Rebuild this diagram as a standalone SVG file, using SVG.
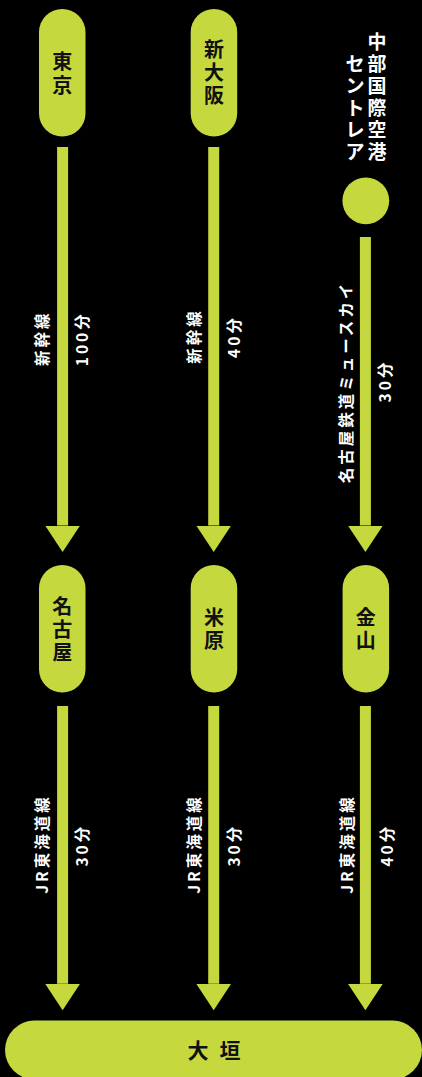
<svg xmlns="http://www.w3.org/2000/svg" width="422" height="1077" viewBox="0 0 422 1077">
  <defs>
    <marker id="head" markerUnits="userSpaceOnUse" viewBox="0 -18 27 36" refX="0" refY="0" markerWidth="27" markerHeight="36" orient="auto">
      <path d="M0,-17.5 L26.5,0 L0,17.5 Z" fill="#c5d93e"/>
    </marker>
  </defs>
  <style>
    .node { fill: #c5d93e; }
    .nlabel { font-family: "Noto Sans CJK JP", "Noto Sans", sans-serif; font-size: 20px; font-weight: 700; fill: #111; text-anchor: middle; }
    .white { font-family: "Noto Sans CJK JP", "Noto Sans", sans-serif; font-size: 19px; font-weight: 700; fill: #fff; text-anchor: middle; }
    .lbl { font-family: "Noto Sans CJK JP", "Noto Sans", sans-serif; font-size: 15.5px; font-weight: 700; fill: #fff; text-anchor: middle; letter-spacing: 3px; }
    .conn { stroke: #c5d93e; stroke-width: 11; fill: none; marker-end: url(#head); }
    .big { font-family: "Noto Sans CJK JP", "Noto Sans", sans-serif; font-size: 21px; font-weight: 700; fill: #111; text-anchor: middle; letter-spacing: 11px; }
  </style>
  <rect width="422" height="1077" fill="#000"/>

  <g id="connectors">
    <path class="conn" d="M62.6,147 V525.5"/>
    <path class="conn" d="M213.7,147 V525.5"/>
    <path class="conn" d="M365.4,237 V525.5"/>
    <path class="conn" d="M62.6,706 V983.7"/>
    <path class="conn" d="M213.7,706 V983.7"/>
    <path class="conn" d="M365.4,706 V983.7"/>
    <text class="lbl" transform="translate(47.7,339.8) rotate(-90)" x="1.5">新幹線</text>
    <text class="lbl" transform="translate(88.1,340.3) rotate(-90)" x="1.5">100分</text>
    <text class="lbl" transform="translate(199.9,337.5) rotate(-90)" x="1.5">新幹線</text>
    <text class="lbl" transform="translate(239.6,338) rotate(-90)" x="1.5">40分</text>
    <text class="lbl" transform="translate(351.9,383.5) rotate(-90)" x="1.5">名古屋鉄道ミュースカイ</text>
    <text class="lbl" transform="translate(391.4,382.5) rotate(-90)" x="1.5">30分</text>
    <text class="lbl" transform="translate(48.1,845.5) rotate(-90)" x="1.5">JR東海道線</text>
    <text class="lbl" transform="translate(88.1,846.7) rotate(-90)" x="1.5">30分</text>
    <text class="lbl" transform="translate(200.1,845.5) rotate(-90)" x="1.5">JR東海道線</text>
    <text class="lbl" transform="translate(239.9,846.7) rotate(-90)" x="1.5">30分</text>
    <text class="lbl" transform="translate(353.4,845.5) rotate(-90)" x="1.5">JR東海道線</text>
    <text class="lbl" transform="translate(393.1,846.7) rotate(-90)" x="1.5">40分</text>
  </g>

  <g id="tokyo">
    <rect class="node" x="39" y="9" width="46.5" height="127.5" rx="23.25"/>
    <text class="nlabel"><tspan x="62.2" y="68.5">東</tspan><tspan x="62.2" y="92.5">京</tspan></text>
  </g>
  <g id="shin-osaka">
    <rect class="node" x="190.7" y="9" width="46.5" height="127.5" rx="23.25"/>
    <text class="nlabel"><tspan x="214" y="56.5">新</tspan><tspan x="214" y="79.5">大</tspan><tspan x="214" y="102.5">阪</tspan></text>
  </g>
  <g id="centrair">
    <circle class="node" cx="365.8" cy="200.8" r="23.4"/>
    <text class="white"><tspan x="377" y="48.9">中</tspan><tspan x="377" y="71">部</tspan><tspan x="377" y="93.1">国</tspan><tspan x="377" y="115.2">際</tspan><tspan x="377" y="137.3">空</tspan><tspan x="377" y="159.4">港</tspan></text>
    <text class="white"><tspan x="355" y="71">セ</tspan><tspan x="355" y="93.1">ン</tspan><tspan x="355" y="115.2">ト</tspan><tspan x="355" y="137.3">レ</tspan><tspan x="355" y="159.4">ア</tspan></text>
  </g>
  <g id="nagoya">
    <rect class="node" x="39" y="565" width="46.5" height="127.5" rx="23.25"/>
    <text class="nlabel"><tspan x="62.2" y="613.5">名</tspan><tspan x="62.2" y="636.5">古</tspan><tspan x="62.2" y="659.5">屋</tspan></text>
  </g>
  <g id="maibara">
    <rect class="node" x="190.7" y="565" width="46.5" height="127.5" rx="23.25"/>
    <text class="nlabel"><tspan x="214" y="624.5">米</tspan><tspan x="214" y="647.5">原</tspan></text>
  </g>
  <g id="kanayama">
    <rect class="node" x="342.6" y="565" width="46.5" height="127.5" rx="23.25"/>
    <text class="nlabel"><tspan x="365.8" y="624.5">金</tspan><tspan x="365.8" y="647.5">山</tspan></text>
  </g>
  <g id="ogaki">
    <rect class="node" x="5" y="1020.5" width="417" height="59" rx="29.5"/>
    <text class="big" x="219.5" y="1058">大垣</text>
  </g>
</svg>
